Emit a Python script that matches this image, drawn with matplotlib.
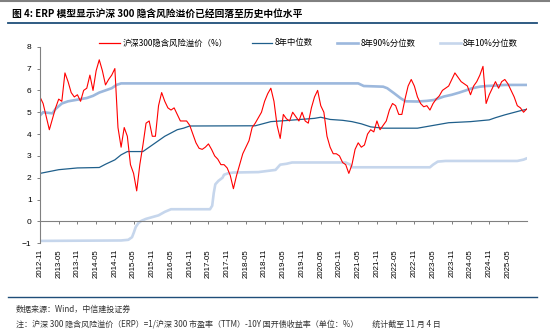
import matplotlib
matplotlib.use("Agg")
import matplotlib.pyplot as plt
from matplotlib.lines import Line2D
import numpy as np
import pandas as pd

plt.rcParams['font.family'] = ['Noto Sans CJK SC', 'DejaVu Sans']

# months counted from 2012-11 (monthly ERP readings)
erp = [5.7, 5.4, 4.8, 4.2, 4.7, 5.2, 5.6, 5.5, 6.8, 6.4, 5.9, 5.7,
       5.8, 5.5, 6.0, 6.1, 6.7, 6.0, 6.9, 7.4, 6.9, 6.25, 6.5, 6.7,
       7.0, 4.3, 3.4, 4.3, 3.9, 2.6, 2.2, 1.4, 2.6, 3.5, 4.5, 4.6,
       3.9, 3.9, 5.3, 5.9, 5.5, 5.2, 5.1, 5.2, 4.9, 4.6, 4.6, 4.6,
       4.4, 4.0, 3.6, 3.35, 3.3, 3.4, 3.55, 3.3, 3.0, 2.85, 2.6, 2.6,
       2.45, 2.1, 1.5, 2.1, 2.6, 3.1, 3.4, 3.7, 4.3, 4.5, 4.75, 5.0,
       5.5, 5.85, 6.1, 5.5, 4.4, 3.8, 4.9, 4.7, 4.6, 5.0, 4.8, 4.6,
       5.0, 4.6, 4.5, 5.2, 5.7, 6.0, 5.3, 5.0, 3.9, 3.4, 3.1, 3.1,
       3.0, 2.7, 2.6, 2.2, 2.6, 3.3, 3.6, 3.4, 3.5, 4.0, 4.2, 4.1,
       4.6, 4.2, 4.4, 4.6, 5.1, 5.4, 5.3, 4.9, 4.9, 5.6, 6.2, 6.5,
       6.2, 5.7, 5.4, 5.25, 5.3, 5.1, 5.4, 5.6, 5.75, 6.0, 6.1, 6.2,
       6.5, 6.8, 6.6, 6.4, 6.3, 6.2, 5.8, 6.2, 6.4, 6.7, 7.1, 5.4,
       5.8, 6.1, 6.4, 6.1, 6.4, 6.5, 6.3, 6.0, 5.7, 5.3, 5.2, 5.0,
       5.15]

# rolling 8-year statistics: (month from 2012-11, value) break points
med_month = [0, 6, 12, 19, 21, 24, 26, 28, 33, 36, 38, 40, 42, 44, 46, 48,
             69, 74, 79, 88, 90, 93, 97, 100, 103, 106, 110, 121, 125, 131,
             138, 144, 146, 149, 154, 156.2]
med_value = [2.2, 2.37, 2.45, 2.47, 2.62, 2.82, 3.05, 3.2, 3.2, 3.5, 3.7, 3.9,
             4.05, 4.2, 4.27, 4.37, 4.38, 4.57, 4.62, 4.72, 4.77, 4.67, 4.63,
             4.57, 4.47, 4.33, 4.27, 4.27, 4.37, 4.52, 4.57, 4.65, 4.75, 4.88,
             5.07, 5.14]

p90_month = [0, 1, 4, 5, 7, 9, 11, 13, 15, 17, 19, 21, 23, 24.5, 26, 102,
             103.8, 110, 111.3, 113.5, 115.6, 117.2, 121, 124, 126.3, 129.5,
             132, 134.4, 136.5, 138.6, 141, 143, 146, 149, 156.2]
p90_value = [4.85, 5.0, 4.95, 5.15, 5.4, 5.5, 5.55, 5.6, 5.65, 5.75, 5.9,
             6.0, 6.1, 6.25, 6.32, 6.32, 6.2, 6.17, 6.1, 5.87, 5.64, 5.5,
             5.49, 5.52, 5.56, 5.72, 5.8, 5.9, 6.0, 6.1, 6.17, 6.2, 6.22,
             6.25, 6.25]

p10_month = [0, 26, 28.3, 29.5, 30.1, 30.7, 31.5, 32.5, 34, 36, 38, 40, 42,
             54.5, 55.2, 55.7, 56.2, 57.2, 58.5, 59, 60.4, 62, 70, 75.5, 77,
             79, 80.8, 98, 99.5, 100, 125, 126, 127.5, 130, 153, 155, 156.2]
p10_value = [-0.89, -0.87, -0.84, -0.72, -0.5, -0.25, -0.08, 0.03, 0.12, 0.2,
             0.28, 0.44, 0.56, 0.56, 0.72, 1.3, 1.7, 1.86, 2.0, 2.14, 2.21,
             2.24, 2.26, 2.36, 2.6, 2.64, 2.7, 2.7, 2.6, 2.48, 2.48, 2.6,
             2.74, 2.77, 2.77, 2.83, 2.9]

tick_labels = pd.date_range('2012-11-01', '2025-05-01', freq='6MS').strftime('%Y-%m')

fig = plt.figure(figsize=(5.5, 3.35), dpi=100)
ax = fig.add_axes([0.0727, 0.2737, 0.886, 0.5869])

ax.plot(p10_month, p10_value, color='#c6d6ec', lw=1.9, solid_capstyle='butt')
ax.plot(p90_month, p90_value, color='#9cb8dd', lw=1.9, solid_capstyle='butt')
ax.plot(med_month, med_value, color='#1f5f8b', lw=0.9)
ax.plot(np.arange(len(erp)), erp, color='#ff0000', lw=0.8)

# spine position first: moving it resets the tick labels
for s in ['top', 'right']:
    ax.spines[s].set_visible(False)
ax.spines['bottom'].set_position(('data', 0))
ax.spines['bottom'].set_color('#808080')
ax.spines['left'].set_color('#808080')
ax.spines['bottom'].set_linewidth(0.8)
ax.spines['left'].set_linewidth(0.8)

ax.set_xlim(0, 156.2)
ax.set_ylim(-1, 8)
ax.set_yticks(range(-1, 9))
ax.set_xticks(np.arange(0, 6 * len(tick_labels), 6))
ax.set_xticklabels(tick_labels)
ax.tick_params(axis='x', direction='out', length=2.5, width=0.7, color='#808080',
               pad=17.5, labelrotation=90, labelsize=5.7)
ax.tick_params(axis='y', direction='out', length=2, width=0.7, color='#808080',
               pad=4, labelsize=6)
for t in ax.get_xticklabels() + ax.get_yticklabels():
    t.set_fontfamily('Liberation Sans')

handles = [Line2D([], [], color='#ff0000', lw=0.9),
           Line2D([], [], color='#1f5f8b', lw=0.9),
           Line2D([], [], color='#9cb8dd', lw=1.9),
           Line2D([], [], color='#c6d6ec', lw=1.9)]
labels = ['沪深300隐含风险溢价（%）', '8年中位数', '8年90%分位数', '8年10%分位数']
fig.legend(handles, labels, loc='center left', bbox_to_anchor=(99 / 550, 1 - 43 / 335),
           ncol=4, frameon=False, fontsize=6, handlelength=2.5, handletextpad=0.3,
           columnspacing=2.9, borderaxespad=0, borderpad=0)

fig.add_artist(Line2D([0, 1], [0.998, 0.998], color='#808080', lw=1.5))
fig.text(12 / 550, 1 - 14 / 335, '图 4: ERP 模型显示沪深 300 隐含风险溢价已经回落至历史中位水平',
         fontsize=7, fontweight='bold', va='center', ha='left')
fig.add_artist(Line2D([8 / 550, 537 / 550], [1 - 23 / 335] * 2, color='#1f4e79', lw=1.3))
fig.add_artist(Line2D([8 / 550, 537 / 550], [1 - 297 / 335] * 2, color='#1f4e79', lw=1.0))
fig.text(16 / 550, 1 - 309 / 335, '数据来源：Wind，中信建投证券', fontsize=5.8,
         va='center', ha='left', color='#333333')
fig.text(16 / 550, 1 - 324 / 335,
         '注：沪深 300 隐含风险溢价（ERP）=1/沪深 300 市盈率（TTM）-10Y 国开债收益率（单位：%）        统计截至 11 月 4 日',
         fontsize=5.8, va='center', ha='left', color='#333333')

fig.savefig('out.png', dpi=100)
